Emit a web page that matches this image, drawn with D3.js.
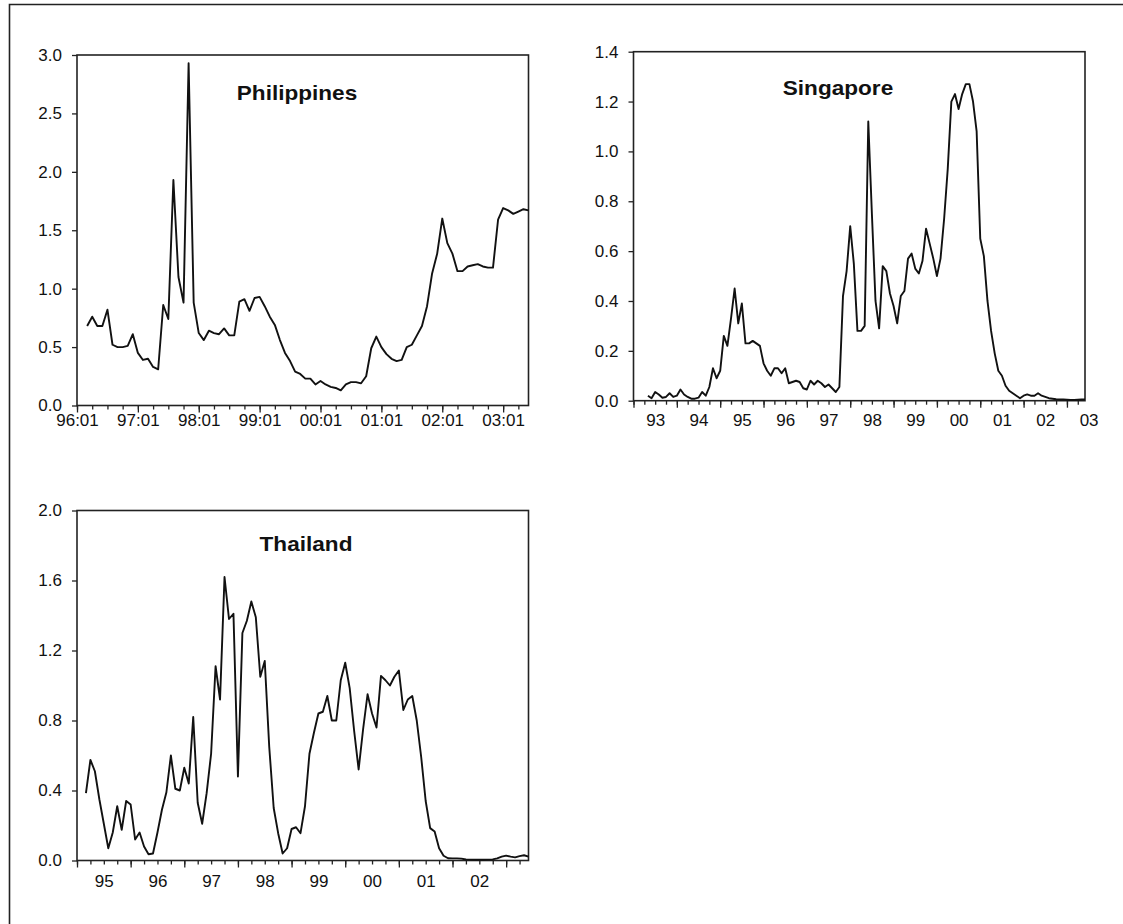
<!DOCTYPE html>
<html>
<head>
<meta charset="utf-8">
<script src="https://cdn.jsdelivr.net/npm/d3@7"></script>
<style>
  html, body { margin: 0; padding: 0; background: #fff; }
  svg { display: block; }
  .tick text { font-family: "Liberation Sans", Arial, Helvetica, sans-serif; font-size: 17px; fill: #111; }
  .title { font-family: "Liberation Sans", Arial, Helvetica, sans-serif; font-size: 20px; font-weight: bold; fill: #111; }
</style>
</head>
<body>
<svg id="fig" width="1123" height="924"></svg>
<script>
// ---- Philippines: monthly, axis runs 1996:01 .. 2003:06 ----
const phAxisMonths = 90;
const phFirst = 2; // first observation is 1996:03
const phTickLabels = ["96:01", "97:01", "98:01", "99:01", "00:01", "01:01", "02:01", "03:01"];
const phYTicks = [0, 0.5, 1.0, 1.5, 2.0, 2.5, 3.0];
const phValues = [
  0.68, 0.76, 0.68, 0.68, 0.82, 0.52, 0.50, 0.50, 0.51, 0.61,
  0.45, 0.39, 0.40, 0.33, 0.31, 0.86, 0.74, 1.93, 1.10, 0.88,
  2.93, 0.88, 0.62, 0.56, 0.64, 0.62, 0.61, 0.66, 0.60, 0.60,
  0.89, 0.91, 0.81, 0.92, 0.93, 0.85, 0.76, 0.69, 0.56, 0.45,
  0.38, 0.29, 0.27, 0.23, 0.23, 0.18, 0.21, 0.18, 0.16, 0.15,
  0.13, 0.18, 0.20, 0.20, 0.19, 0.25, 0.49, 0.59, 0.50, 0.44,
  0.40, 0.38, 0.39, 0.50, 0.52, 0.60, 0.68, 0.85, 1.13, 1.30,
  1.60, 1.39, 1.30, 1.15, 1.15, 1.19, 1.20, 1.21, 1.19, 1.18,
  1.18, 1.59, 1.69, 1.67, 1.64, 1.66, 1.68, 1.67
];

// ---- Singapore: monthly, axis runs 1993:01 .. 2003:06 ----
const sgAxisMonths = 126;
const sgFirst = 4; // first observation is 1993:05
const sgYearLabels = ["93", "94", "95", "96", "97", "98", "99", "00", "01", "02", "03"];
const sgYTicks = [0, 0.2, 0.4, 0.6, 0.8, 1.0, 1.2, 1.4];
const sgValues = [
  0.02, 0.01, 0.035, 0.025, 0.012, 0.015, 0.03, 0.015, 0.02, 0.045,
  0.025, 0.015, 0.008, 0.008, 0.012, 0.035, 0.02, 0.055, 0.13, 0.09,
  0.12, 0.26, 0.22, 0.33, 0.45, 0.31, 0.39, 0.23, 0.23, 0.24,
  0.23, 0.22, 0.15, 0.12, 0.10, 0.13, 0.13, 0.11, 0.13, 0.07,
  0.075, 0.08, 0.075, 0.05, 0.045, 0.08, 0.065, 0.08, 0.07, 0.055,
  0.065, 0.05, 0.035, 0.055, 0.42, 0.52, 0.70, 0.55, 0.28, 0.28,
  0.30, 1.12, 0.75, 0.40, 0.29, 0.54, 0.52, 0.43, 0.38, 0.31,
  0.42, 0.44, 0.57, 0.59, 0.53, 0.51, 0.56, 0.69, 0.63, 0.57,
  0.50, 0.57, 0.73, 0.93, 1.20, 1.23, 1.17, 1.23, 1.27, 1.27,
  1.20, 1.08, 0.65, 0.58, 0.40, 0.28, 0.19, 0.12, 0.10, 0.06,
  0.04, 0.03, 0.02, 0.01, 0.02, 0.025, 0.02, 0.02, 0.03, 0.02,
  0.015, 0.01, 0.008, 0.006, 0.005, 0.005, 0.004, 0.003, 0.003, 0.004,
  0.005, 0.005
];

// ---- Thailand: monthly, axis runs 1995:01 .. 2003:06 ----
const thAxisMonths = 102;
const thFirst = 2; // first observation is 1995:03
const thYearLabels = ["95", "96", "97", "98", "99", "00", "01", "02"];
const thYTicks = [0, 0.4, 0.8, 1.2, 1.6, 2.0];
const thValues = [
  0.385, 0.575, 0.51, 0.35, 0.21, 0.07, 0.16, 0.31, 0.175, 0.34,
  0.32, 0.12, 0.16, 0.08, 0.036, 0.04, 0.16, 0.29, 0.39, 0.60,
  0.41, 0.40, 0.53, 0.44, 0.82, 0.33, 0.21, 0.385, 0.61, 1.11,
  0.92, 1.62, 1.38, 1.41, 0.48, 1.30, 1.37, 1.48, 1.39, 1.05,
  1.14, 0.65, 0.30, 0.156, 0.04, 0.07, 0.18, 0.19, 0.156, 0.31,
  0.61, 0.73, 0.84, 0.85, 0.94, 0.80, 0.80, 1.03, 1.13, 0.985,
  0.74, 0.52, 0.75, 0.95, 0.84, 0.76, 1.055, 1.03, 1.00, 1.05,
  1.086, 0.86, 0.92, 0.94, 0.80, 0.59, 0.34, 0.185, 0.166, 0.07,
  0.027, 0.013, 0.012, 0.012, 0.011, 0.006, 0.005, 0.004, 0.004, 0.004,
  0.005, 0.006, 0.012, 0.022, 0.028, 0.022, 0.018, 0.025, 0.03, 0.022
];

const svg = d3.select("#fig");

// outer figure border (left and top edges)
svg.append("path")
  .attr("d", "M9.5,924 V4.5 H1123")
  .attr("fill", "none").attr("stroke", "#222").attr("stroke-width", 1.6);

function panel(opt) {
  const g = svg.append("g");
  const x = d3.scaleLinear().domain([0, opt.months - 1]).range([opt.left, opt.right]);
  const y = d3.scaleLinear().domain([0, opt.yMax]).range([opt.bottom, opt.top]);

  // y axis
  const ya = g.append("g")
    .attr("transform", `translate(${opt.left},0)`)
    .call(d3.axisLeft(y).tickValues(opt.yTicks).tickFormat(d3.format(".1f"))
      .tickSize(5).tickPadding(10).tickSizeOuter(0));
  ya.select(".domain").remove();

  // x axis: quarterly minor ticks, yearly major ticks
  const quarters = d3.range(0, opt.months, 3);
  const years = d3.range(0, opt.months, 12);
  const xm = g.append("g")
    .attr("transform", `translate(0,${opt.bottom})`)
    .call(d3.axisBottom(x).tickValues(quarters).tickFormat("").tickSize(4).tickSizeOuter(0));
  xm.select(".domain").remove();
  const xM = g.append("g")
    .attr("transform", `translate(0,${opt.bottom})`)
    .call(d3.axisBottom(x).tickValues(years)
      .tickFormat((d, i) => opt.labelAtTick ? opt.labels[i] : "")
      .tickSize(7).tickPadding(1).tickSizeOuter(0));
  xM.select(".domain").remove();
  if (!opt.labelAtTick) {
    const mids = opt.labels.map((_, i) => i * 12 + 6);
    const xl = g.append("g")
      .attr("transform", `translate(0,${opt.bottom})`)
      .call(d3.axisBottom(x).tickValues(mids).tickFormat((d, i) => opt.labels[i])
        .tickSize(0).tickPadding(opt.labelPad).tickSizeOuter(0));
    xl.select(".domain").remove();
  }
  g.selectAll(".tick line").attr("stroke", "#222").attr("stroke-width", 1.3);

  // plot frame
  g.append("rect")
    .attr("x", opt.left).attr("y", opt.top)
    .attr("width", opt.right - opt.left).attr("height", opt.bottom - opt.top)
    .attr("fill", "none").attr("stroke", "#222").attr("stroke-width", 1.6);

  // series line
  const line = d3.line().x((d, i) => x(opt.first + i)).y(d => y(d));
  g.append("path")
    .datum(opt.values)
    .attr("d", line)
    .attr("fill", "none").attr("stroke", "#111").attr("stroke-width", 1.9)
    .attr("stroke-linejoin", "round");

  // panel title, set slightly wide
  g.append("text").attr("class", "title")
    .attr("transform", `translate(${opt.titleX},${opt.titleY}) scale(1.13,1)`)
    .attr("text-anchor", "middle").text(opt.title);
}

panel({
  title: "Philippines", titleX: 297, titleY: 100,
  left: 77, right: 528.5, top: 55, bottom: 405.5,
  months: phAxisMonths, first: phFirst, values: phValues,
  yMax: 3.0, yTicks: phYTicks, labels: phTickLabels, labelAtTick: true
});

panel({
  title: "Singapore", titleX: 838, titleY: 95,
  left: 633.5, right: 1085, top: 51.7, bottom: 400.7,
  months: sgAxisMonths, first: sgFirst, values: sgValues,
  yMax: 1.4, yTicks: sgYTicks, labels: sgYearLabels, labelAtTick: false, labelPad: 13
});

panel({
  title: "Thailand", titleX: 306, titleY: 551,
  left: 77, right: 528.5, top: 510.5, bottom: 860.5,
  months: thAxisMonths, first: thFirst, values: thValues,
  yMax: 2.0, yTicks: thYTicks, labels: thYearLabels, labelAtTick: false, labelPad: 14
});
</script>
</body>
</html>
